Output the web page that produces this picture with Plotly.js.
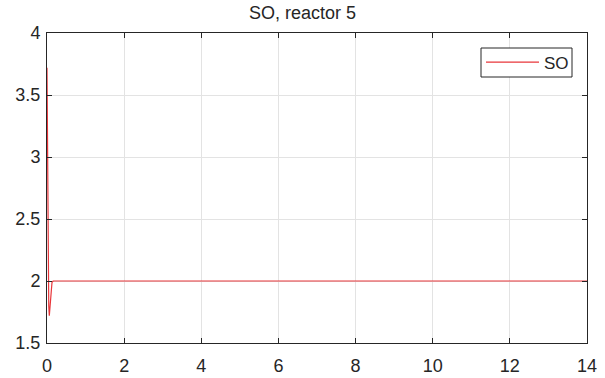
<!DOCTYPE html>
<html>
<head>
<meta charset="utf-8">
<script src="https://cdn.plot.ly/plotly-3.0.1.min.js"></script>
<style>html,body{margin:0;padding:0;background:#fff;}#chart{width:605px;height:378px;}</style>
</head>
<body>
<div id="chart"></div>
<script>
// Time (days) and dissolved oxygen SO in reactor 5
const timeDays = [0, 0.01, 0.02, 0.03, 0.045, 0.06, 0.08, 0.1, 0.13, 0.16, 0.2, 0.3, 0.5, 1, 2, 3, 4, 5, 6, 7, 8, 9, 10, 11, 12, 13, 14];
const soValues = [3.72, 3.2, 2.6, 2.05, 1.8, 1.72, 1.82, 1.93, 1.99, 2.0, 2.0, 2.0, 2.0, 2.0, 2.0, 2.0, 2.0, 2.0, 2.0, 2.0, 2.0, 2.0, 2.0, 2.0, 2.0, 2.0, 2.0];
const xTicks = [0, 2, 4, 6, 8, 10, 12, 14];
const yTicks = [1.5, 2, 2.5, 3, 3.5, 4];

const font = {family: 'Liberation Sans, Arial, sans-serif', color: '#262626'};

const axisBase = {
  showline: true, mirror: 'ticks', linecolor: '#262626', linewidth: 1,
  ticks: 'inside', ticklen: 5, tickcolor: '#262626',
  showgrid: true, gridcolor: '#e3e3e3', gridwidth: 1,
  zeroline: false, tickfont: Object.assign({size: 18}, font)
};

// plot area in pixels: x 47..587, y 33..343
const px = v => (v - 47) / 540;
const py = v => (343 - v) / 310;

Plotly.newPlot('chart', [{
  x: timeDays, y: soValues, type: 'scatter', mode: 'lines', name: 'SO',
  line: {color: '#e8363a', width: 1.2}
}], {
  width: 605, height: 378,
  margin: {l: 47, r: 18, t: 33, b: 35},
  paper_bgcolor: '#fff', plot_bgcolor: '#fff',
  title: {text: 'SO, reactor 5', font: Object.assign({size: 18}, font), x: 0.5, xanchor: 'center', y: 1 - 6 / 378, yanchor: 'top'},
  xaxis: Object.assign({}, axisBase, {range: [0, 14], tickvals: xTicks, ticklabelstandoff: 6}),
  yaxis: Object.assign({}, axisBase, {range: [1.5, 4], tickvals: yTicks, ticklabelstandoff: 2}),
  showlegend: true,
  shapes: [{
    type: 'rect', xref: 'paper', yref: 'paper', layer: 'above',
    x0: px(481), x1: px(572), y0: py(77), y1: py(48),
    line: {color: '#262626', width: 1}, fillcolor: '#fff'
  }],
  legend: {x: px(481), y: py(62.5), xanchor: 'left', yanchor: 'middle', bgcolor: 'rgba(0,0,0,0)',
           borderwidth: 0, itemwidth: 53,
           font: Object.assign({size: 17}, font)}
}, {displayModeBar: false, staticPlot: true});
</script>
</body>
</html>
